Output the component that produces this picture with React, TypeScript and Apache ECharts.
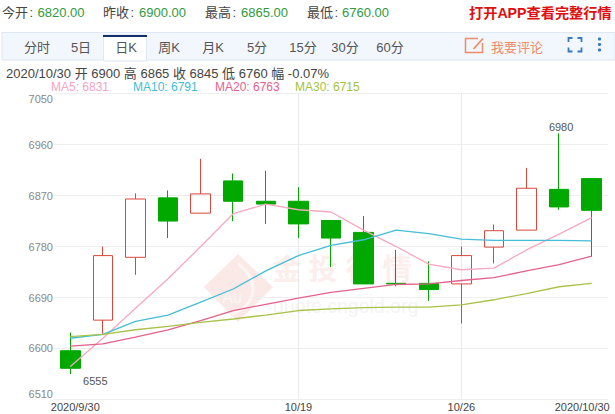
import React, { useEffect, useRef } from "react";
import * as echarts from "echarts";

const categories = ["2020/9/30","10/1","10/2","10/5","10/6","10/7","10/8","10/19","10/20","10/21","10/22","10/23","10/26","10/27","10/28","10/29","2020/10/30"];
const shownLabels = ["2020/9/30", "10/19", "10/26", "2020/10/30"];
const splitCategories = ["10/19", "10/26"];
// open, close, low, high
const candles = [
  [6596, 6565, 6555, 6628],
  [6650, 6764, 6626, 6780],
  [6761, 6864, 6730, 6874],
  [6866, 6825, 6795, 6879],
  [6839, 6873, 6839, 6935],
  [6896, 6860, 6825, 6909],
  [6860, 6855, 6820, 6914],
  [6860, 6820, 6795, 6885],
  [6826, 6795, 6744, 6826],
  [6805, 6714, 6714, 6834],
  [6715, 6714, 6710, 6774],
  [6715, 6704, 6684, 6754],
  [6714, 6764, 6644, 6780],
  [6779, 6808, 6750, 6819],
  [6809, 6883, 6809, 6919],
  [6881, 6850, 6845, 6980],
  [6900, 6844, 6762, 6900],
];
const ma5 = [6568, 6618, 6671, 6723, 6780, 6838, 6855, 6845, 6841, 6809, 6780, 6749, 6739, 6742, 6774, 6802, 6831];
const ma10 = [6618, 6625, 6648, 6659, 6682, 6705, 6737, 6764, 6782, 6792, 6809, 6803, 6793, 6791, 6791, 6791, 6790];
const ma20 = [6604, 6608, 6620, 6633, 6649, 6667, 6678, 6689, 6699, 6706, 6713, 6714, 6720, 6725, 6737, 6748, 6763];
const ma30 = [6621, 6625, 6633, 6639, 6646, 6652, 6659, 6667, 6670, 6672, 6673, 6673, 6677, 6686, 6697, 6709, 6715];
const yTicks = [6510, 6600, 6690, 6780, 6870, 6960, 7050];
const highIndex = 15, highValue = 6980, lowIndex = 0, lowValue = 6555;

const quotes = [
  ["今开", 2, "6820.00", 37.5],
  ["昨收", 103, "6900.00", 139],
  ["最高", 205, "6865.00", 241],
  ["最低", 307, "6760.00", 342],
] as const;
const tabs = [["分时", 37], ["5日", 81], ["日K", 126], ["周K", 169], ["月K", 213], ["5分", 257], ["15分", 303], ["30分", 345], ["60分", 390]] as const;
const maLegend = [
  ["MA5: 6831", 51, "#f5a3bf"],
  ["MA10: 6791", 133, "#3fbcd6"],
  ["MA20: 6763", 215, "#e5608c"],
  ["MA30: 6715", 295, "#a3c23c"],
] as const;
const macdLegend = [
  ["MACD", 17, "#888888"],
  ["DIF: 46", 60, "#3fbcd6"],
  ["DEA: 45", 142, "#c030b8"],
  ["MACD: 0", 224, "#d83434"],
] as const;
const infoLine = "2020/10/30 开 6900 高 6865 收 6845 低 6760 幅 -0.07%";
const watermarkChars = [["金", 287], ["投", 323], ["行", 360], ["情", 397]] as const;

const FONT = '"Liberation Sans", "Noto Sans CJK SC", sans-serif';
const GREEN = "#00a800";
const RED = "#d8483a";
const GRID = "#eeeeee";

function txt(x: number, y: number, text: string, fill: string, fontSize: number, extra: any = {}) {
  return {
    type: "text", x, y, z: 5,
    style: { text, fill, fontSize, fontFamily: FONT, textVerticalAlign: "middle", verticalAlign: "middle", ...extra },
  };
}

function buildGraphic() {
  const els: any[] = [];
  quotes.forEach(([label, lx, value, vx]) => {
    els.push(txt(lx, 12.5, label, "#444444", 13));
    els.push(txt(lx + 27.5, 12.5, ":", "#444444", 13));
    els.push(txt(vx, 12.5, value, "#2f9a3c", 13));
  });
  els.push(txt(469, 12.5, "打开APP查看完整行情", "#e00f0f", 14.2, { fontWeight: "bold" }));

  // toolbar
  els.push({ type: "rect", z: 1, shape: { x: 2, y: 32.5, width: 613, height: 27.5 }, style: { fill: "#f2f6fd", stroke: "#dfe7f3", lineWidth: 1 } });
  els.push({ type: "rect", z: 2, shape: { x: 103.5, y: 35, width: 43, height: 26 }, style: { fill: "#ffffff", stroke: "#dfe7f3", lineWidth: 1 } });
  els.push({ type: "rect", z: 3, shape: { x: 103, y: 35, width: 44, height: 2 }, style: { fill: "#12306a" } });
  tabs.forEach(([t, x]) => els.push(txt(x, 47.5, t, "#555555", 13, { textAlign: "center", align: "center" })));

  // comment icon
  els.push({ type: "polyline", z: 4, shape: { points: [[478, 38.5], [465.5, 38.5], [465.5, 52.5], [482.5, 52.5], [482.5, 43]] }, style: { fill: "none", stroke: "#ee8c6a", lineWidth: 1.5 } });
  els.push({ type: "line", z: 4, shape: { x1: 473.5, y1: 49, x2: 483, y2: 38.5 }, style: { stroke: "#ee8c6a", lineWidth: 1.8 } });
  els.push(txt(491, 47, "我要评论", "#ee8c6a", 13));

  // fullscreen icon
  const fs: number[][][] = [
    [[568.5, 42], [568.5, 38], [572.5, 38]],
    [[577.5, 38], [581.5, 38], [581.5, 42]],
    [[568.5, 47.5], [568.5, 51.5], [572.5, 51.5]],
    [[577.5, 51.5], [581.5, 51.5], [581.5, 47.5]],
  ];
  fs.forEach((points) => els.push({ type: "polyline", z: 4, shape: { points }, style: { fill: "none", stroke: "#3a78c2", lineWidth: 1.8 } }));
  [39, 44.5, 50].forEach((cy) => els.push({ type: "circle", z: 4, shape: { cx: 599.5, cy, r: 1.6 }, style: { fill: "#3a78c2" } }));

  // info + legend
  els.push(txt(6, 73.5, infoLine, "#444444", 13));
  maLegend.forEach(([t, x, c]) => els.push(txt(x, 86.5, t, c, 12)));
  macdLegend.forEach(([t, x, c]) => els.push(txt(x, 419, t, c, 12)));

  // watermark
  els.push({ type: "polygon", z: 0, shape: { points: [[238, 254], [273, 287], [238, 322], [204, 287]] }, style: { fill: "#fae9e6" } });
  els.push({ type: "bezierCurve", z: 0, shape: { x1: 238, y1: 264, cpx1: 262, cpy1: 282, cpx2: 255, cpy2: 306, x2: 232, y2: 314 }, style: { fill: "none", stroke: "#fdf6f5", lineWidth: 3 } });
  els.push({ ...txt(232, 297, "Au", "#fdf6f5", 16, { textAlign: "center", align: "center" }), z: 0 });
  watermarkChars.forEach(([c, x]) => els.push({ ...txt(x, 270, c, "#fbeeec", 29, { textAlign: "center", align: "center", fontWeight: "bold" }), z: 0 }));
  els.push({ ...txt(273, 306, "quote.cngold.org", "#f4f4f4", 19.5), z: 0 });
  return els;
}

function lineSeries(name: string, data: number[], color: string) {
  return {
    name, type: "line", data, symbol: "none", smooth: false, z: 5,
    lineStyle: { color, width: 1.3 }, itemStyle: { color },
  };
}

export default function App() {
  const ref = useRef<HTMLDivElement>(null);
  useEffect(() => {
    const chart = echarts.init(ref.current!, undefined, { renderer: "svg" });
    chart.setOption({
      animation: false,
      backgroundColor: "#ffffff",
      textStyle: { fontFamily: FONT },
      grid: { left: 54, right: 7, top: 93.7, bottom: 14.6, containLabel: false },
      xAxis: {
        type: "category",
        data: categories,
        boundaryGap: true,
        axisLine: { show: false },
        axisTick: { show: false },
        axisLabel: {
          interval: (_: number, v: string) => shownLabels.includes(v),
          margin: 2,
          fontSize: 11,
          color: "#444444",
          fontFamily: FONT,
          hideOverlap: false,
          formatter: (v: string) => v === categories[0] ? `{first|${v}}` : v === categories[categories.length - 1] ? `{last|${v}}` : v,
          rich: {
            first: { padding: [0, 0, 0, 10], fontSize: 11, color: "#444444", fontFamily: FONT },
            last: { padding: [0, 19, 0, 0], fontSize: 11, color: "#444444", fontFamily: FONT },
          },
        },
        splitLine: {
          show: true,
          alignWithLabel: true,
          interval: (_: number, v: string) => splitCategories.includes(v),
          lineStyle: { color: "#e9e9e9", width: 1 },
        },
      },
      yAxis: {
        type: "value",
        min: yTicks[0],
        max: yTicks[yTicks.length - 1],
        scale: true,
        axisLine: { show: false },
        axisTick: { show: false, customValues: yTicks },
        axisLabel: {
          customValues: yTicks,
          margin: 1,
          fontSize: 11,
          color: "#888888",
          fontFamily: FONT,
          formatter: (v: number) => String(v),
          verticalAlignMaxLabel: "top",
          verticalAlignMinLabel: "bottom",
        },
        splitLine: { show: true, lineStyle: { color: GRID, width: 1 } },
      },
      graphic: buildGraphic(),
      series: [
        {
          name: "K",
          type: "candlestick",
          data: candles,
          barWidth: 20,
          z: 3,
          itemStyle: {
            color: "rgba(255,255,255,0)",
            color0: GREEN,
            borderColor: RED,
            borderColor0: GREEN,
            borderWidth: 1,
          },
          markPoint: {
            symbol: "circle",
            symbolSize: 0,
            animation: false,
            data: [
              { coord: [highIndex, highValue], value: highValue, label: { position: "top", distance: 0, offset: [2, -1] } },
              { coord: [lowIndex, lowValue], value: lowValue, label: { position: "inside", offset: [25, 7] } },
            ],
            label: { show: true, fontSize: 11, color: "#555555", fontFamily: FONT, formatter: (p: any) => String(p.value) },
          },
        },
        lineSeries("MA5", ma5, "#f5a9c0"),
        lineSeries("MA10", ma10, "#45bdd6"),
        lineSeries("MA20", ma20, "#e3628c"),
        lineSeries("MA30", ma30, "#a8c248"),
      ],
    });
    return () => chart.dispose();
  }, []);
  return (
    <div
      ref={ref}
      style={{ position: "absolute", left: 0, top: 0, width: 615, height: 414, overflow: "hidden" }}
    />
  );
}
